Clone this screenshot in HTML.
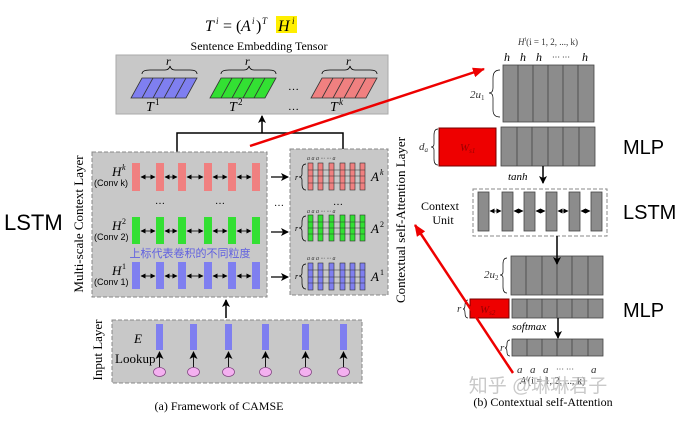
<!DOCTYPE html>
<html><head><meta charset="utf-8"><style>
html,body{margin:0;padding:0;background:#fff;}
svg{display:block;}
.s{font-family:"Liberation Serif",serif;}
.a{font-family:"Liberation Sans",sans-serif;}
</style></head><body>
<svg width="679" height="430" viewBox="0 0 679 430" xmlns="http://www.w3.org/2000/svg">
<defs>
<marker id="ah" markerWidth="8" markerHeight="8" refX="7" refY="4" orient="auto" markerUnits="userSpaceOnUse"><path d="M0,0 L8,4 L0,8 L2,4z" fill="#000"/></marker>
<marker id="rh" markerWidth="12" markerHeight="10" refX="11" refY="5" orient="auto" markerUnits="userSpaceOnUse"><path d="M0,0 L12,5 L0,10z" fill="#e00"/></marker>
<marker id="dh" markerWidth="5" markerHeight="5" refX="4.5" refY="2.5" orient="auto-start-reverse" markerUnits="userSpaceOnUse"><path d="M0,0 L5,2.5 L0,5z" fill="#000"/></marker>
</defs>

<!-- formula -->
<rect x="276" y="16" width="21" height="17" fill="#ffef00"/>
<g class="s" font-size="16" font-style="italic">
<text x="205" y="31">T</text><text x="216" y="24" font-size="9">i</text>
<text x="223" y="31" font-style="normal">= (</text>
<text x="241" y="31">A</text><text x="252" y="24" font-size="9">i</text>
<text x="256" y="31" font-style="normal">)</text><text x="262" y="24" font-size="9">T</text>
<text x="278" y="31">H</text><text x="292" y="24" font-size="9">i</text>
</g>
<text x="259" y="50" class="s" font-size="12" text-anchor="middle">Sentence Embedding Tensor</text>

<!-- top tensor box -->
<rect x="116" y="55" width="272" height="59" fill="#c8c8c8" stroke="#aaa"/>
<g stroke="#333" stroke-width="0.8">
<path d="M142,78 L197,78 L186,98 L131,98z" fill="#7f7ff0"/>
<path d="M153,78 L142,98 M164,78 L153,98 M175,78 L164,98 M186,78 L175,98" fill="none"/>
<path d="M221,78 L276,78 L265,98 L210,98z" fill="#33e033"/>
<path d="M232,78 L221,98 M243,78 L232,98 M254,78 L243,98 M265,78 L254,98" fill="none"/>
<path d="M322,78 L377,78 L366,98 L311,98z" fill="#f08080"/>
<path d="M333,78 L322,98 M344,78 L333,98 M355,78 L344,98 M366,78 L355,98" fill="none"/>
</g>
<g fill="none" stroke="#000" stroke-width="0.8">
<path d="M142,74 Q142,70 150,70 L165,70 Q169,70 170,66 Q171,70 175,70 L190,70 Q197,70 197,74"/>
<path d="M221,74 Q221,70 229,70 L244,70 Q248,70 249,66 Q250,70 254,70 L269,70 Q276,70 276,74"/>
<path d="M322,74 Q322,70 330,70 L345,70 Q349,70 350,66 Q351,70 355,70 L370,70 Q377,70 377,74"/>
</g>
<g class="s" font-size="12" font-style="italic"><text x="166" y="65">r</text><text x="245" y="65">r</text><text x="346" y="65">r</text></g>
<g class="s" font-size="14" font-style="italic"><text x="146" y="111">T</text><text x="155" y="105" font-size="9" font-style="normal">1</text><text x="229" y="111">T</text><text x="238" y="105" font-size="9" font-style="normal">2</text><text x="330" y="111">T</text><text x="339" y="105" font-size="9">k</text></g>
<text x="288" y="90" font-size="11">…</text><text x="288" y="110" font-size="11">…</text>

<!-- connectors to top box -->
<path d="M177,152 L177,133 L343,133 L343,152" fill="none" stroke="#000" stroke-width="1.5"/>
<line x1="262" y1="133" x2="262" y2="116" stroke="#000" stroke-width="1.5" marker-end="url(#ah)"/>

<!-- multi-scale box -->
<rect x="92" y="152" width="175" height="145" fill="#c8c8c8" stroke="#888" stroke-dasharray="4,2"/>
<g fill="#f08080"><rect x="132" y="163" width="8" height="28"/><rect x="156" y="163" width="8" height="28"/><rect x="178" y="163" width="8" height="28"/><rect x="204" y="163" width="8" height="28"/><rect x="228" y="163" width="8" height="28"/><rect x="252" y="163" width="8" height="28"/></g>
<g fill="#33e033"><rect x="132" y="217" width="8" height="27"/><rect x="156" y="217" width="8" height="27"/><rect x="178" y="217" width="8" height="27"/><rect x="204" y="217" width="8" height="27"/><rect x="228" y="217" width="8" height="27"/><rect x="252" y="217" width="8" height="27"/></g>
<g fill="#7f7ff0"><rect x="132" y="262" width="8" height="27"/><rect x="156" y="262" width="8" height="27"/><rect x="178" y="262" width="8" height="27"/><rect x="204" y="262" width="8" height="27"/><rect x="228" y="262" width="8" height="27"/><rect x="252" y="262" width="8" height="27"/></g>
<g stroke="#000" stroke-width="0.8" marker-start="url(#dh)" marker-end="url(#dh)">
<line x1="141" y1="177" x2="155" y2="177"/><line x1="165" y1="177" x2="177" y2="177"/><line x1="187" y1="177" x2="203" y2="177"/><line x1="213" y1="177" x2="227" y2="177"/><line x1="237" y1="177" x2="251" y2="177"/>
<line x1="141" y1="231" x2="155" y2="231"/><line x1="165" y1="231" x2="177" y2="231"/><line x1="187" y1="231" x2="203" y2="231"/><line x1="213" y1="231" x2="227" y2="231"/><line x1="237" y1="231" x2="251" y2="231"/>
<line x1="141" y1="276" x2="155" y2="276"/><line x1="165" y1="276" x2="177" y2="276"/><line x1="187" y1="276" x2="203" y2="276"/><line x1="213" y1="276" x2="227" y2="276"/><line x1="237" y1="276" x2="251" y2="276"/>
</g>
<g class="s" font-size="13" font-style="italic"><text x="112" y="176">H</text><text x="122" y="170" font-size="8">k</text><text x="112" y="230">H</text><text x="122" y="224" font-size="8" font-style="normal">2</text><text x="112" y="275">H</text><text x="122" y="269" font-size="8" font-style="normal">1</text></g>
<g class="a" font-size="9"><text x="94" y="186">(Conv k)</text><text x="94" y="240">(Conv 2)</text><text x="94" y="285">(Conv 1)</text></g>
<text x="155" y="204" font-size="10">…</text><text x="215" y="204" font-size="10">…</text><text x="274" y="206" font-size="10">…</text>
<text x="190" y="257" font-family="'Liberation Sans','Noto Sans CJK SC',sans-serif" font-size="11" fill="#6060e0" text-anchor="middle">上标代表卷积的不同粒度</text>
<g stroke="#000" stroke-width="1.3" marker-end="url(#ah)"><line x1="271" y1="177" x2="288" y2="177"/><line x1="271" y1="232" x2="288" y2="232"/><line x1="271" y1="277" x2="288" y2="277"/></g>

<!-- attention box -->
<rect x="290" y="149" width="98" height="146" fill="#c8c8c8" stroke="#888" stroke-dasharray="4,2"/>
<g stroke="#333" stroke-width="0.6">
<g fill="#f08080"><rect x="308" y="163" width="5" height="27"/><rect x="318" y="163" width="5" height="27"/><rect x="329" y="163" width="5" height="27"/><rect x="340" y="163" width="5" height="27"/><rect x="350" y="163" width="5" height="27"/><rect x="360" y="163" width="5" height="27"/></g>
<g fill="#33e033"><rect x="308" y="215" width="5" height="26"/><rect x="318" y="215" width="5" height="26"/><rect x="329" y="215" width="5" height="26"/><rect x="340" y="215" width="5" height="26"/><rect x="350" y="215" width="5" height="26"/><rect x="360" y="215" width="5" height="26"/></g>
<g fill="#7f7ff0"><rect x="308" y="263" width="5" height="27"/><rect x="318" y="263" width="5" height="27"/><rect x="329" y="263" width="5" height="27"/><rect x="340" y="263" width="5" height="27"/><rect x="350" y="263" width="5" height="27"/><rect x="360" y="263" width="5" height="27"/></g>
<path d="M308,170H365M308,176H365M308,183H365M308,222H365M308,228H365M308,234H365M308,270H365M308,277H365M308,283H365" fill="none"/>
</g>
<g fill="none" stroke="#000" stroke-width="0.7"><path d="M306,164 Q302,164 302,170 L302,174 Q302,177 299,177 Q302,177 302,180 L302,184 Q302,190 306,190"/><path d="M306,216 Q302,216 302,222 L302,225 Q302,228 299,228 Q302,228 302,231 L302,235 Q302,241 306,241"/><path d="M306,264 Q302,264 302,270 L302,273 Q302,276 299,276 Q302,276 302,279 L302,283 Q302,289 306,289"/></g>
<g class="s" font-size="8" font-style="italic"><text x="295" y="180">r</text><text x="295" y="231">r</text><text x="295" y="279">r</text></g>
<g class="s" font-size="6" font-style="italic" fill="#333"><text x="307" y="160">a a a ··· ··· a</text><text x="307" y="213">a a a ··· ··· a</text><text x="307" y="260">a a a ··· ··· a</text></g>
<text x="333" y="205" font-size="10">…</text>
<g class="s" font-size="13" font-style="italic"><text x="371" y="181">A</text><text x="380" y="175" font-size="8">k</text><text x="371" y="233">A</text><text x="380" y="227" font-size="8" font-style="normal">2</text><text x="371" y="281">A</text><text x="380" y="275" font-size="8" font-style="normal">1</text></g>

<!-- vertical labels -->
<text transform="translate(83,224) rotate(-90)" class="s" font-size="13" text-anchor="middle">Multi-scale Context Layer</text>
<text transform="translate(405,220) rotate(-90)" class="s" font-size="13" text-anchor="middle">Contextual self-Attention Layer</text>
<text transform="translate(102,350) rotate(-90)" class="s" font-size="13" text-anchor="middle">Input Layer</text>

<line x1="226" y1="318" x2="226" y2="300" stroke="#000" stroke-width="1.5" marker-end="url(#ah)"/>

<!-- input box -->
<rect x="112" y="320" width="250" height="63" fill="#c8c8c8" stroke="#888" stroke-dasharray="4,2"/>
<g fill="#7f7ff0"><rect x="156" y="324" width="7" height="26"/><rect x="190" y="324" width="7" height="26"/><rect x="225" y="324" width="7" height="26"/><rect x="262" y="324" width="7" height="26"/><rect x="302" y="324" width="7" height="26"/><rect x="340" y="324" width="7" height="26"/></g>
<g stroke="#000" stroke-width="0.9" marker-end="url(#ah)"><line x1="159.5" y1="367" x2="159.5" y2="352"/><line x1="193.5" y1="367" x2="193.5" y2="352"/><line x1="228.5" y1="367" x2="228.5" y2="352"/><line x1="265.5" y1="367" x2="265.5" y2="352"/><line x1="305.5" y1="367" x2="305.5" y2="352"/><line x1="343.5" y1="367" x2="343.5" y2="352"/></g>
<g fill="#f4b0f0" stroke="#804080" stroke-width="0.7"><ellipse cx="159.5" cy="372" rx="6" ry="4.5"/><ellipse cx="193.5" cy="372" rx="6" ry="4.5"/><ellipse cx="228.5" cy="372" rx="6" ry="4.5"/><ellipse cx="265.5" cy="372" rx="6" ry="4.5"/><ellipse cx="305.5" cy="372" rx="6" ry="4.5"/><ellipse cx="343.5" cy="372" rx="6" ry="4.5"/></g>
<text x="134" y="343" class="s" font-size="13" font-style="italic">E</text>
<text x="115" y="363" class="s" font-size="13">Lookup</text>
<text x="219" y="410" class="s" font-size="12" text-anchor="middle">(a) Framework of CAMSE</text>

<text x="4" y="230" class="a" font-size="22">LSTM</text>

<!-- right panel -->
<text x="548" y="45" class="s" font-size="9" font-style="italic" text-anchor="middle" fill="#333">H<tspan font-size="6" dy="-4">i</tspan><tspan dy="4" font-style="normal">(i = 1, 2, ..., k)</tspan></text>
<g class="s" font-size="12" font-style="italic"><text x="504" y="61">h</text><text x="520" y="61">h</text><text x="536" y="61">h</text><text x="552" y="60" font-size="8" font-style="normal">···  ···</text><text x="582" y="61">h</text></g>
<g fill="#8c8c8c" stroke="#444" stroke-width="0.8">
<rect x="503" y="65" width="91" height="57"/>
<rect x="501" y="127" width="94" height="39"/>
<rect x="511" y="256" width="92" height="39"/>
<rect x="512" y="299" width="91" height="19"/>
<rect x="512" y="339" width="91" height="17"/>
</g>
<g stroke="#444" stroke-width="0.8">
<path d="M518,65V122M533,65V122M548,65V122M563,65V122M578,65V122"/>
<path d="M517,127V166M532,127V166M548,127V166M563,127V166M579,127V166"/>
<path d="M526,256V295M542,256V295M557,256V295M572,256V295M588,256V295"/>
<path d="M527,299V318M542,299V318M557,299V318M572,299V318M588,299V318"/>
<path d="M527,339V356M542,339V356M557,339V356M572,339V356M588,339V356"/>
</g>
<g fill="none" stroke="#000" stroke-width="0.7">
<path d="M500,70 Q493,70 493,78 L493,88 Q493,93 489,93 Q493,93 493,98 L493,110 Q493,117 500,117"/>
<path d="M438,129 Q434,129 434,135 L434,144 Q434,147 431,147 Q434,147 434,150 L434,159 Q434,165 438,165"/>
<path d="M507,258 Q503,258 503,264 L503,272 Q503,275 500,275 Q503,275 503,278 L503,287 Q503,293 507,293"/>
<path d="M468,300 Q465,300 465,305 Q465,309 463,309 Q465,309 465,313 Q465,318 468,318"/>
<path d="M510,340 Q507,340 507,344 Q507,348 505,348 Q507,348 507,352 Q507,356 510,356"/>
</g>
<g class="s" font-size="11" font-style="italic" fill="#333"><text x="470" y="98">2u<tspan font-size="7" dy="2" font-style="normal">1</tspan></text><text x="419" y="150">d<tspan font-size="7" dy="2">a</tspan></text><text x="484" y="278">2u<tspan font-size="7" dy="2" font-style="normal">2</tspan></text><text x="457" y="312">r</text><text x="500" y="351">r</text></g>
<rect x="439" y="128" width="57" height="38" fill="#ee0000" stroke="#700"/>
<text x="460" y="151" class="s" font-size="11" font-style="italic" fill="#900">W<tspan font-size="7" dy="2">s1</tspan></text>
<rect x="470" y="299" width="39" height="19" fill="#ee0000" stroke="#700"/>
<text x="480" y="313" class="s" font-size="11" font-style="italic" fill="#900">W<tspan font-size="7" dy="2">s2</tspan></text>

<line x1="543" y1="166" x2="543" y2="183" stroke="#000" stroke-width="1.5" marker-end="url(#ah)"/>
<text x="508" y="180" class="s" font-size="11" font-style="italic">tanh</text>
<rect x="473" y="189" width="134" height="47" fill="none" stroke="#888" stroke-dasharray="4,2"/>
<g fill="#8c8c8c" stroke="#444" stroke-width="0.8"><rect x="478" y="192" width="11" height="39"/><rect x="502" y="192" width="11" height="39"/><rect x="524" y="192" width="11" height="39"/><rect x="546" y="192" width="11" height="39"/><rect x="569" y="192" width="11" height="39"/><rect x="591" y="192" width="11" height="39"/></g>
<g stroke="#000" stroke-width="0.7" marker-start="url(#dh)" marker-end="url(#dh)"><line x1="490" y1="211" x2="501" y2="211"/><line x1="514" y1="211" x2="523" y2="211"/><line x1="536" y1="211" x2="545" y2="211"/><line x1="558" y1="211" x2="568" y2="211"/><line x1="581" y1="211" x2="590" y2="211"/></g>
<text x="440" y="210" class="s" font-size="12" text-anchor="middle">Context</text>
<text x="443" y="224" class="s" font-size="12" text-anchor="middle">Unit</text>
<line x1="557" y1="236" x2="557" y2="264" stroke="#000" stroke-width="1.5" marker-end="url(#ah)"/>
<line x1="558" y1="318" x2="558" y2="338" stroke="#000" stroke-width="1.5" marker-end="url(#ah)"/>
<text x="512" y="330" class="s" font-size="11" font-style="italic">softmax</text>
<g class="s" font-size="11" font-style="italic" fill="#333"><text x="517" y="373">a</text><text x="530" y="373">a</text><text x="543" y="373">a</text><text x="556" y="372" font-size="8" font-style="normal">··· ···</text><text x="591" y="373">a</text></g>
<text x="520" y="384" class="s" font-size="10" font-style="italic" fill="#333">A<tspan font-size="6" dy="-4">i</tspan><tspan dy="4" font-style="normal">(i = 1, 2, ..., k)</tspan></text>
<text x="538" y="392" font-family="'Liberation Sans','Noto Sans CJK SC',sans-serif" font-size="19" fill="#bbb" fill-opacity="0.8" text-anchor="middle">知乎 @琳琳君子</text>
<text x="543" y="406" class="s" font-size="12" text-anchor="middle">(b) Contextual self-Attention</text>
<g class="a" font-size="20"><text x="623" y="154">MLP</text><text x="623" y="219">LSTM</text><text x="623" y="317">MLP</text></g>

<!-- red arrows -->
<line x1="250" y1="146" x2="484" y2="69" stroke="#e00" stroke-width="2.5" marker-end="url(#rh)"/>
<line x1="513" y1="373" x2="415" y2="225" stroke="#e00" stroke-width="2.5" marker-end="url(#rh)"/>
</svg>
</body></html>
